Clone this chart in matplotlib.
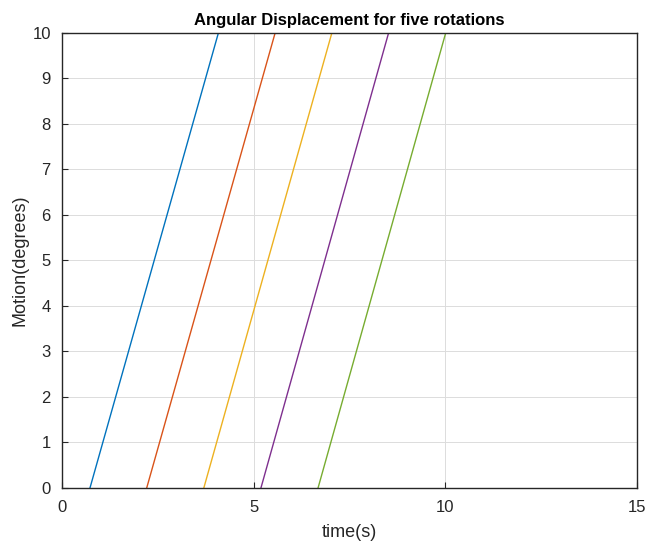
import numpy as np
import matplotlib
matplotlib.use('Agg')
import matplotlib.pyplot as plt

plt.rcParams['font.family'] = ['Liberation Sans', 'DejaVu Sans']

# time where each rotation starts (motion 0) and reaches 10 degrees
t_start = [0.73, 2.21, 3.70, 5.19, 6.68]
t_end = [4.08, 5.56, 7.04, 8.52, 10.01]
motion = [0, 10]
colors = ['#0072BD', '#D95319', '#EDB120', '#7E2F8E', '#77AC30']

fig = plt.figure(figsize=(6.47, 5.47), dpi=100)
ax = fig.add_axes([0.0958, 0.1079, 0.8887, 0.8318])

for t0, t1, c in zip(t_start, t_end, colors):
    ax.plot([t0, t1], motion, color=c, lw=1.0)

ax.set_xlim(0, 15)
ax.set_ylim(0, 10)
ax.set_xticks([0, 5, 10, 15])
ax.set_yticks(np.arange(0, 11, 1))
ax.grid(True, color='#dcdcdc', lw=0.7)
ax.set_axisbelow(True)
ax.tick_params(direction='in', length=4, labelsize=12, colors='#262626')
ax.tick_params(axis='x', pad=9)
ax.tick_params(axis='y', pad=8)
for s in ax.spines.values():
    s.set_color('#262626')
    s.set_linewidth(1.0)

ax.set_title('Angular Displacement for five rotations', fontsize=12,
             fontweight='bold', pad=6)
ax.set_xlabel('time(s)', fontsize=13, color='#262626', labelpad=6)
ax.set_ylabel('Motion(degrees)', fontsize=13, color='#262626', labelpad=3)

fig.savefig('out.png', dpi=100)
